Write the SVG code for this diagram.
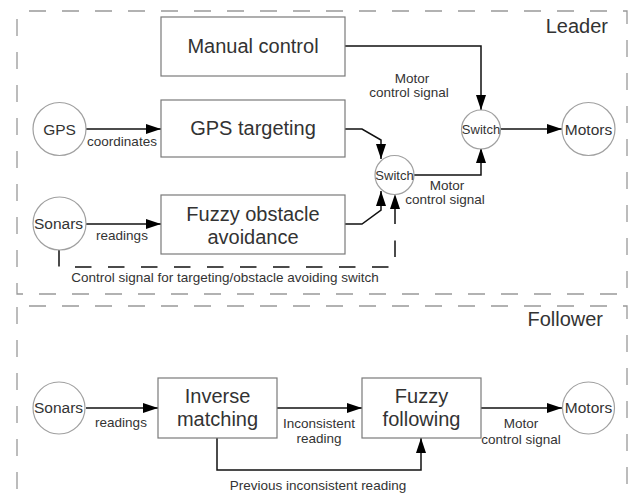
<svg xmlns="http://www.w3.org/2000/svg" width="629" height="495" viewBox="0 0 629 495">
<style>
.bg{fill:#fff}
.frame{fill:none;stroke:#999;stroke-width:1.3;stroke-dasharray:17,16}
.box{fill:#fff;stroke:#7a7a7a;stroke-width:1.2}
.circ{fill:#fff;stroke:#a0a0a0;stroke-width:1.2}
.big{font-family:"Liberation Sans",Arial,sans-serif;font-size:20px;fill:#333;text-anchor:middle}
.title{font-family:"Liberation Sans",Arial,sans-serif;font-size:20px;fill:#333;text-anchor:end}
.cl{font-family:"Liberation Sans",Arial,sans-serif;font-size:15.5px;fill:#333;text-anchor:middle}
.sw{font-family:"Liberation Sans",Arial,sans-serif;font-size:13px;fill:#333;text-anchor:middle}
.lbl{font-family:"Liberation Sans",Arial,sans-serif;font-size:13.5px;fill:#333;text-anchor:middle}
.edge{fill:none;stroke:#111;stroke-width:1.5;marker-end:url(#ah)}
.plain{fill:none;stroke:#111;stroke-width:1.5}
.dash{fill:none;stroke:#111;stroke-width:1.5;stroke-dasharray:16.5,16.5;marker-end:url(#ah)}
</style>
<defs>
<marker id="ah" markerUnits="userSpaceOnUse" markerWidth="15" markerHeight="10" refX="15" refY="5" orient="auto">
<path d="M0,0 L15,5 L0,10 z" fill="#000"/>
</marker>
</defs>
<rect class="bg" x="0" y="0" width="629" height="495"/>

<g id="leader-frame">
<rect class="frame" x="17" y="11" width="610" height="283" stroke-dashoffset="21"/>
<text class="title" x="608" y="33">Leader</text>
</g>
<g id="follower-frame">
<rect class="frame" x="17" y="306" width="610" height="230" stroke-dashoffset="21"/>
<text class="title" x="603" y="326">Follower</text>
</g>

<g id="connectors">
<path class="edge" d="M86,129 H161"/>
<path class="edge" d="M86,224 H161"/>
<path class="edge" d="M345,46 H481 V110"/>
<path class="edge" d="M345,129 H362 L381,140 V159"/>
<path class="edge" d="M345,224 H362 L381,210 V191"/>
<path class="edge" d="M414,175 H481 V148"/>
<path class="edge" d="M500,129 H562"/>
<path class="dash" d="M59,250 V267 H395 V194"/>
<path class="edge" d="M86,408 H158"/>
<path class="edge" d="M277,408 H362"/>
<path class="edge" d="M481,408 H562"/>
<path class="edge" d="M217,438 V470 H421 V438"/>
<text class="lbl" x="122" y="146">coordinates</text>
<text class="lbl" x="122" y="240">readings</text>
<text class="lbl" x="225" y="282">Control signal for targeting/obstacle avoiding switch</text>
<text class="lbl" x="412" y="83">Motor</text>
<text class="lbl" x="409" y="97">control signal</text>
<text class="lbl" x="447" y="190">Motor</text>
<text class="lbl" x="445" y="204">control signal</text>
<text class="lbl" x="121" y="427">readings</text>
<text class="lbl" x="319" y="428">Inconsistent</text>
<text class="lbl" x="319" y="443">reading</text>
<text class="lbl" x="521" y="428">Motor</text>
<text class="lbl" x="521" y="444">control signal</text>
<text class="lbl" x="318" y="490">Previous inconsistent reading</text>
</g>

<g id="manual-control">
<rect class="box" x="161" y="17" width="184" height="59"/>
<text class="big" x="253" y="53">Manual control</text>
</g>
<g id="gps-targeting">
<rect class="box" x="161" y="100" width="184" height="57"/>
<text class="big" x="253" y="135">GPS targeting</text>
</g>
<g id="fuzzy-obstacle-avoidance">
<rect class="box" x="161" y="195" width="184" height="59"/>
<text class="big" x="253" y="221">Fuzzy obstacle</text>
<text class="big" x="253" y="244">avoidance</text>
</g>
<g id="gps">
<circle class="circ" cx="59.5" cy="129" r="26.5"/>
<text class="cl" x="59.5" y="135">GPS</text>
</g>
<g id="sonars-leader">
<circle class="circ" cx="59.5" cy="223.5" r="26.5"/>
<text class="cl" x="58.5" y="229">Sonars</text>
</g>
<g id="switch-lower">
<circle class="circ" cx="394.5" cy="175" r="19.5"/>
<text class="sw" x="394.5" y="180">Switch</text>
</g>
<g id="switch-upper">
<circle class="circ" cx="481" cy="129.5" r="19.5"/>
<text class="sw" x="481" y="134">Switch</text>
</g>
<g id="motors-leader">
<circle class="circ" cx="588.5" cy="129" r="26.5"/>
<text class="cl" x="588.5" y="135">Motors</text>
</g>

<g id="sonars-follower">
<circle class="circ" cx="59" cy="408" r="26"/>
<text class="cl" x="58.5" y="413">Sonars</text>
</g>
<g id="inverse-matching">
<rect class="box" x="158" y="378" width="119" height="60"/>
<text class="big" x="217.5" y="403">Inverse</text>
<text class="big" x="217.5" y="426">matching</text>
</g>
<g id="fuzzy-following">
<rect class="box" x="362" y="378" width="119" height="60"/>
<text class="big" x="421.5" y="403">Fuzzy</text>
<text class="big" x="421.5" y="426">following</text>
</g>
<g id="motors-follower">
<circle class="circ" cx="588.5" cy="408" r="26"/>
<text class="cl" x="588.5" y="413">Motors</text>
</g>
</svg>
